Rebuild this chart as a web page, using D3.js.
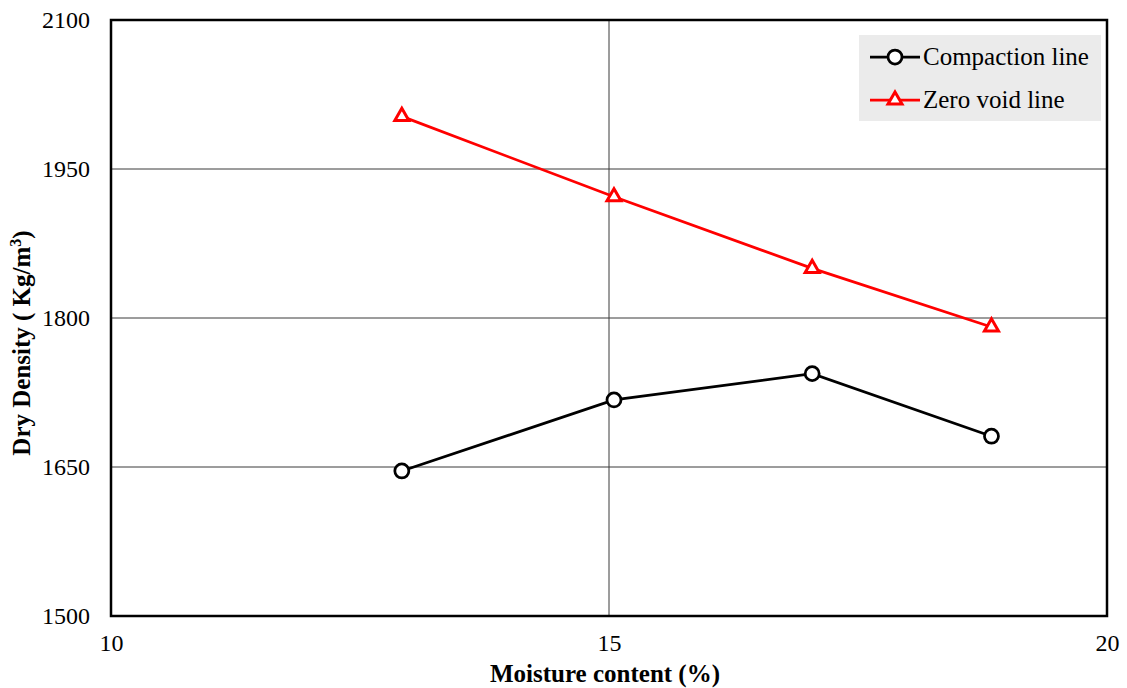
<!DOCTYPE html>
<html><head><meta charset="utf-8">
<script src="https://cdn.jsdelivr.net/npm/d3@7"></script>
<style>body{margin:0;background:#fff}</style>
</head><body><svg id="c" width="1127" height="688"></svg>
<script>
const moisture = [12.92, 15.05, 17.04, 18.84];
const compaction = [1646, 1717.5, 1744, 1681];
const zeroVoid = [2003, 1922, 1850, 1791];
const xTicks = [10, 15, 20];
const yTicks = [1500, 1650, 1800, 1950, 2100];
const seriesNames = ["Compaction line", "Zero void line"];

const svg = d3.select("#c");
const L = 111, R = 1107, T = 20, B = 616;
const x = d3.scaleLinear().domain([10, 20]).range([L, R]);
const y = d3.scaleLinear().domain([1500, 2100]).range([B, T]);
const font = "'Liberation Serif','Times New Roman',serif";

// gridlines
svg.append("g").selectAll("line").data(yTicks.slice(1, -1)).join("line")
  .attr("x1", L).attr("x2", R).attr("y1", d => y(d)).attr("y2", d => y(d))
  .attr("stroke", "#3a3a3a").attr("stroke-width", 1);
svg.append("g").selectAll("line").data(xTicks.slice(1, -1)).join("line")
  .attr("y1", T).attr("y2", B).attr("x1", d => x(d)).attr("x2", d => x(d))
  .attr("stroke", "#3a3a3a").attr("stroke-width", 1);

// axes (labels only)
const ya = svg.append("g").attr("transform", `translate(${L},0)`)
  .call(d3.axisLeft(y).tickValues(yTicks).tickSize(0).tickPadding(21).tickFormat(d3.format("d")));
const xa = svg.append("g").attr("transform", `translate(0,${B})`)
  .call(d3.axisBottom(x).tickValues(xTicks).tickSize(0).tickPadding(18).tickFormat(d3.format("d")));
[ya, xa].forEach(a => {
  a.select(".domain").remove();
  a.selectAll("text").attr("font-family", font).attr("font-size", 24).attr("fill", "#000");
});

// plot border
svg.append("rect").attr("x", L).attr("y", T).attr("width", R - L).attr("height", B - T)
  .attr("fill", "none").attr("stroke", "#000").attr("stroke-width", 2.5);

// lines
const line = d3.line().x(d => x(d[0])).y(d => y(d[1]));
const cData = moisture.map((m, i) => [m, compaction[i]]);
const zData = moisture.map((m, i) => [m, zeroVoid[i]]);
svg.append("path").datum(zData).attr("d", line).attr("fill", "none").attr("stroke", "#ff0000").attr("stroke-width", 2.75);
svg.append("path").datum(cData).attr("d", line).attr("fill", "none").attr("stroke", "#000").attr("stroke-width", 2.75);

const tri = d3.symbol().type(d3.symbolTriangle).size(85);
svg.append("g").selectAll("path").data(zData).join("path")
  .attr("d", tri).attr("transform", d => `translate(${x(d[0])},${y(d[1])})`)
  .attr("fill", "#fff").attr("stroke", "#ff0000").attr("stroke-width", 3);
svg.append("g").selectAll("circle").data(cData).join("circle")
  .attr("cx", d => x(d[0])).attr("cy", d => y(d[1])).attr("r", 7)
  .attr("fill", "#fff").attr("stroke", "#000").attr("stroke-width", 2.75);

// legend
const lg = svg.append("g");
lg.append("rect").attr("x", 859).attr("y", 35).attr("width", 242).attr("height", 86).attr("fill", "#ebebeb");
const rows = [{n: seriesNames[0], c: "#000", y: 57, m: "circle"}, {n: seriesNames[1], c: "#ff0000", y: 100, m: "tri"}];
rows.forEach(r => {
  lg.append("line").attr("x1", 870).attr("x2", 920).attr("y1", r.y).attr("y2", r.y).attr("stroke", r.c).attr("stroke-width", 2.75);
  if (r.m === "circle") lg.append("circle").attr("cx", 895).attr("cy", r.y).attr("r", 7).attr("fill", "#fff").attr("stroke", r.c).attr("stroke-width", 2.75);
  else lg.append("path").attr("d", tri).attr("transform", `translate(895,${r.y})`).attr("fill", "#fff").attr("stroke", r.c).attr("stroke-width", 3);
  lg.append("text").attr("x", 923).attr("y", r.y + 8).text(r.n).attr("font-family", font).attr("font-size", 25).attr("fill", "#000");
});

// titles
svg.append("text").attr("x", 605).attr("y", 682).attr("text-anchor", "middle")
  .attr("font-family", font).attr("font-size", 25).attr("font-weight", "bold").text("Moisture content (%)");
const yt = svg.append("text").attr("transform", `translate(30,${(T + B) / 2 + 25}) rotate(-90)`).attr("text-anchor", "middle")
  .attr("font-family", font).attr("font-size", 25).attr("font-weight", "bold");
yt.append("tspan").text("Dry Density ( Kg/m");
yt.append("tspan").attr("dy", -9).attr("font-size", 16).text("3");
yt.append("tspan").attr("dy", 9).text(")");
</script></body></html>
